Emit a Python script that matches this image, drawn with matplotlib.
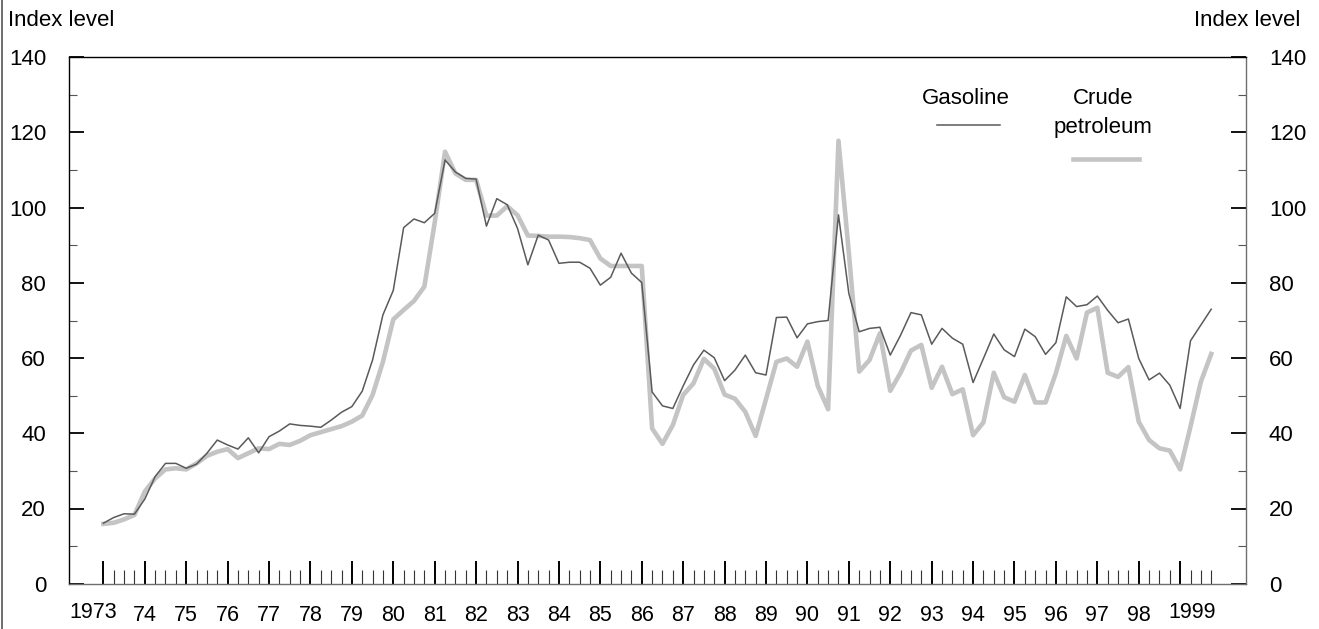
import numpy as np
import matplotlib
matplotlib.use("Agg")
import matplotlib.pyplot as plt
from matplotlib.lines import Line2D
from matplotlib.ticker import FixedLocator

plt.rcParams['font.family'] = ['Liberation Sans', 'DejaVu Sans']

# quarterly index levels, 1973 Q1 .. 1999 Q4
gasoline = [
    16.1, 17.6, 18.6, 18.5, 22.5, 28.5, 32.0, 32.0, 30.7, 31.8, 34.7, 38.2,
    36.9, 35.8, 38.8, 34.8, 39.1, 40.6, 42.5, 42.1, 41.9, 41.6, 43.5, 45.6,
    47.1, 51.2, 59.5, 71.5, 78.0, 94.7, 97.0, 96.0, 98.5, 112.7, 109.5, 107.8,
    107.6, 95.1, 102.4, 100.8, 94.5, 84.8, 92.7, 91.4, 85.2, 85.5, 85.5, 83.9,
    79.4, 81.5, 87.9, 82.6, 80.1, 51.0, 47.3, 46.6, 52.6, 58.2, 62.1, 60.1,
    54.0, 56.8, 60.8, 56.1, 55.5, 70.8, 70.9, 65.4, 69.1, 69.7, 70.0, 98.1,
    77.2, 67.0, 67.9, 68.2, 60.8, 66.1, 72.1, 71.5, 63.7, 67.9, 65.3, 63.7,
    53.5, 59.9, 66.4, 62.2, 60.4, 67.7, 65.7, 61.0, 64.1, 76.3, 73.7, 74.2,
    76.5, 72.7, 69.4, 70.4, 59.9, 54.2, 56.0, 52.8, 46.6, 64.6, 68.8, 73.0,
]
crude = [
    15.9, 16.2, 17.1, 18.3, 24.5, 28.0, 30.4, 30.7, 30.4, 32.0, 34.0, 35.1,
    35.8, 33.4, 34.7, 36.0, 35.8, 37.2, 36.9, 38.0, 39.5, 40.3, 41.1, 41.9,
    43.1, 44.7, 50.2, 59.0, 70.3, 72.8, 75.2, 79.0, 96.0, 114.9, 109.1, 107.4,
    107.4, 97.9, 97.9, 100.4, 98.0, 92.6, 92.5, 92.3, 92.3, 92.2, 91.9, 91.4,
    86.5, 84.5, 84.5, 84.5, 84.5, 41.3, 37.2, 42.2, 50.2, 53.3, 59.8, 57.2,
    50.3, 49.2, 45.7, 39.3, 49.1, 59.0, 59.9, 57.7, 64.4, 52.6, 46.4, 117.8,
    88.0, 56.4, 59.5, 66.6, 51.3, 56.1, 62.0, 63.5, 52.1, 57.7, 50.4, 51.7,
    39.5, 42.9, 56.1, 49.6, 48.4, 55.5, 48.2, 48.2, 56.0, 65.9, 59.9, 72.1,
    73.4, 56.1, 55.0, 57.6, 43.1, 38.2, 36.0, 35.4, 30.4, 41.8, 53.7, 61.1,
]
years = list(range(1973, 2000))
year_labels = ['1973'] + ["%02d" % (y % 100) for y in years[1:-1]] + ['1999']

t = 1973 + np.arange(len(gasoline)) / 4.0

fig = plt.figure(figsize=(13.19, 6.29), dpi=100)
ax = fig.add_axes([69 / 1319, 1 - 583.7 / 629, (1246 - 69) / 1319, (583.7 - 57.3) / 629])

ax.plot(t, crude, color='#c4c4c4', lw=3.3, solid_joinstyle='round', zorder=2)
ax.plot(t, gasoline, color='#5a5a5a', lw=1.1, zorder=3)

ax.set_xlim(1972.17, 2000.59)
ax.set_ylim(0, 140)

# y axis: labels on both sides, ticks pointing in
ax.yaxis.set_major_locator(FixedLocator(range(0, 141, 20)))
ax.yaxis.set_minor_locator(FixedLocator(range(10, 140, 20)))
ax.tick_params(axis='y', which='major', direction='in', length=10.8, width=1.3,
               left=True, right=True, labelleft=True, labelright=True,
               labelsize=16, pad=16.5, color='black')
ax.tick_params(axis='y', which='minor', direction='in', length=5.5, width=0.8,
               left=True, right=True, color='#555555')

# x axis: year ticks and quarter ticks rising from the baseline
quarters = [y + q / 4.0 for y in years for q in (1, 2, 3)]
ax.xaxis.set_major_locator(FixedLocator(years))
ax.xaxis.set_minor_locator(FixedLocator(quarters))
ax.tick_params(axis='x', which='major', direction='in', length=16.3, width=1.4,
               color='black', labelbottom=False)
ax.tick_params(axis='x', which='minor', direction='in', length=9.9, width=0.8,
               color='#333333')

for y, lab in zip(years, year_labels):
    if lab == '1973':
        xpos, ypos = y - 0.25, -0.054
    elif lab == '1999':
        xpos, ypos = y + 0.28, -0.054
    else:
        xpos, ypos = y, -0.0595
    ax.text(xpos, ypos, lab, transform=ax.get_xaxis_transform(),
            ha='center', va='center', fontsize=15.5)

ax.spines['left'].set_color('black')
ax.spines['top'].set_color('black')
ax.spines['right'].set_color('#6e6e6e')
ax.spines['bottom'].set_color('#6e6e6e')
for s in ax.spines.values():
    s.set_linewidth(1.0)

# axis captions
fig.text(8 / 1319, 1 - 20 / 629, 'Index level', ha='left', va='center', fontsize=16)
fig.text(1300 / 1319, 1 - 20 / 629, 'Index level', ha='right', va='center', fontsize=16)

# hand-placed key
fig.text(965.7 / 1319, 1 - 98 / 629, 'Gasoline', ha='center', va='center', fontsize=16)
fig.text(1103 / 1319, 1 - 98 / 629, 'Crude', ha='center', va='center', fontsize=16)
fig.text(1103 / 1319, 1 - 128 / 629, 'petroleum', ha='center', va='center', fontsize=16)
fig.add_artist(Line2D([936.7 / 1319, 1000 / 1319], [1 - 125 / 629, 1 - 125 / 629],
                      color='#5a5a5a', lw=1.1, transform=fig.transFigure))
fig.add_artist(Line2D([1073 / 1319, 1139 / 1319], [1 - 159 / 629, 1 - 159 / 629],
                      color='#c4c4c4', lw=3.3, transform=fig.transFigure))

# frame line down the left edge
fig.add_artist(Line2D([1.5 / 1319, 1.5 / 1319], [0, 1], color='#555555', lw=1.2,
                      transform=fig.transFigure))

fig.savefig('out.png', dpi=100)
